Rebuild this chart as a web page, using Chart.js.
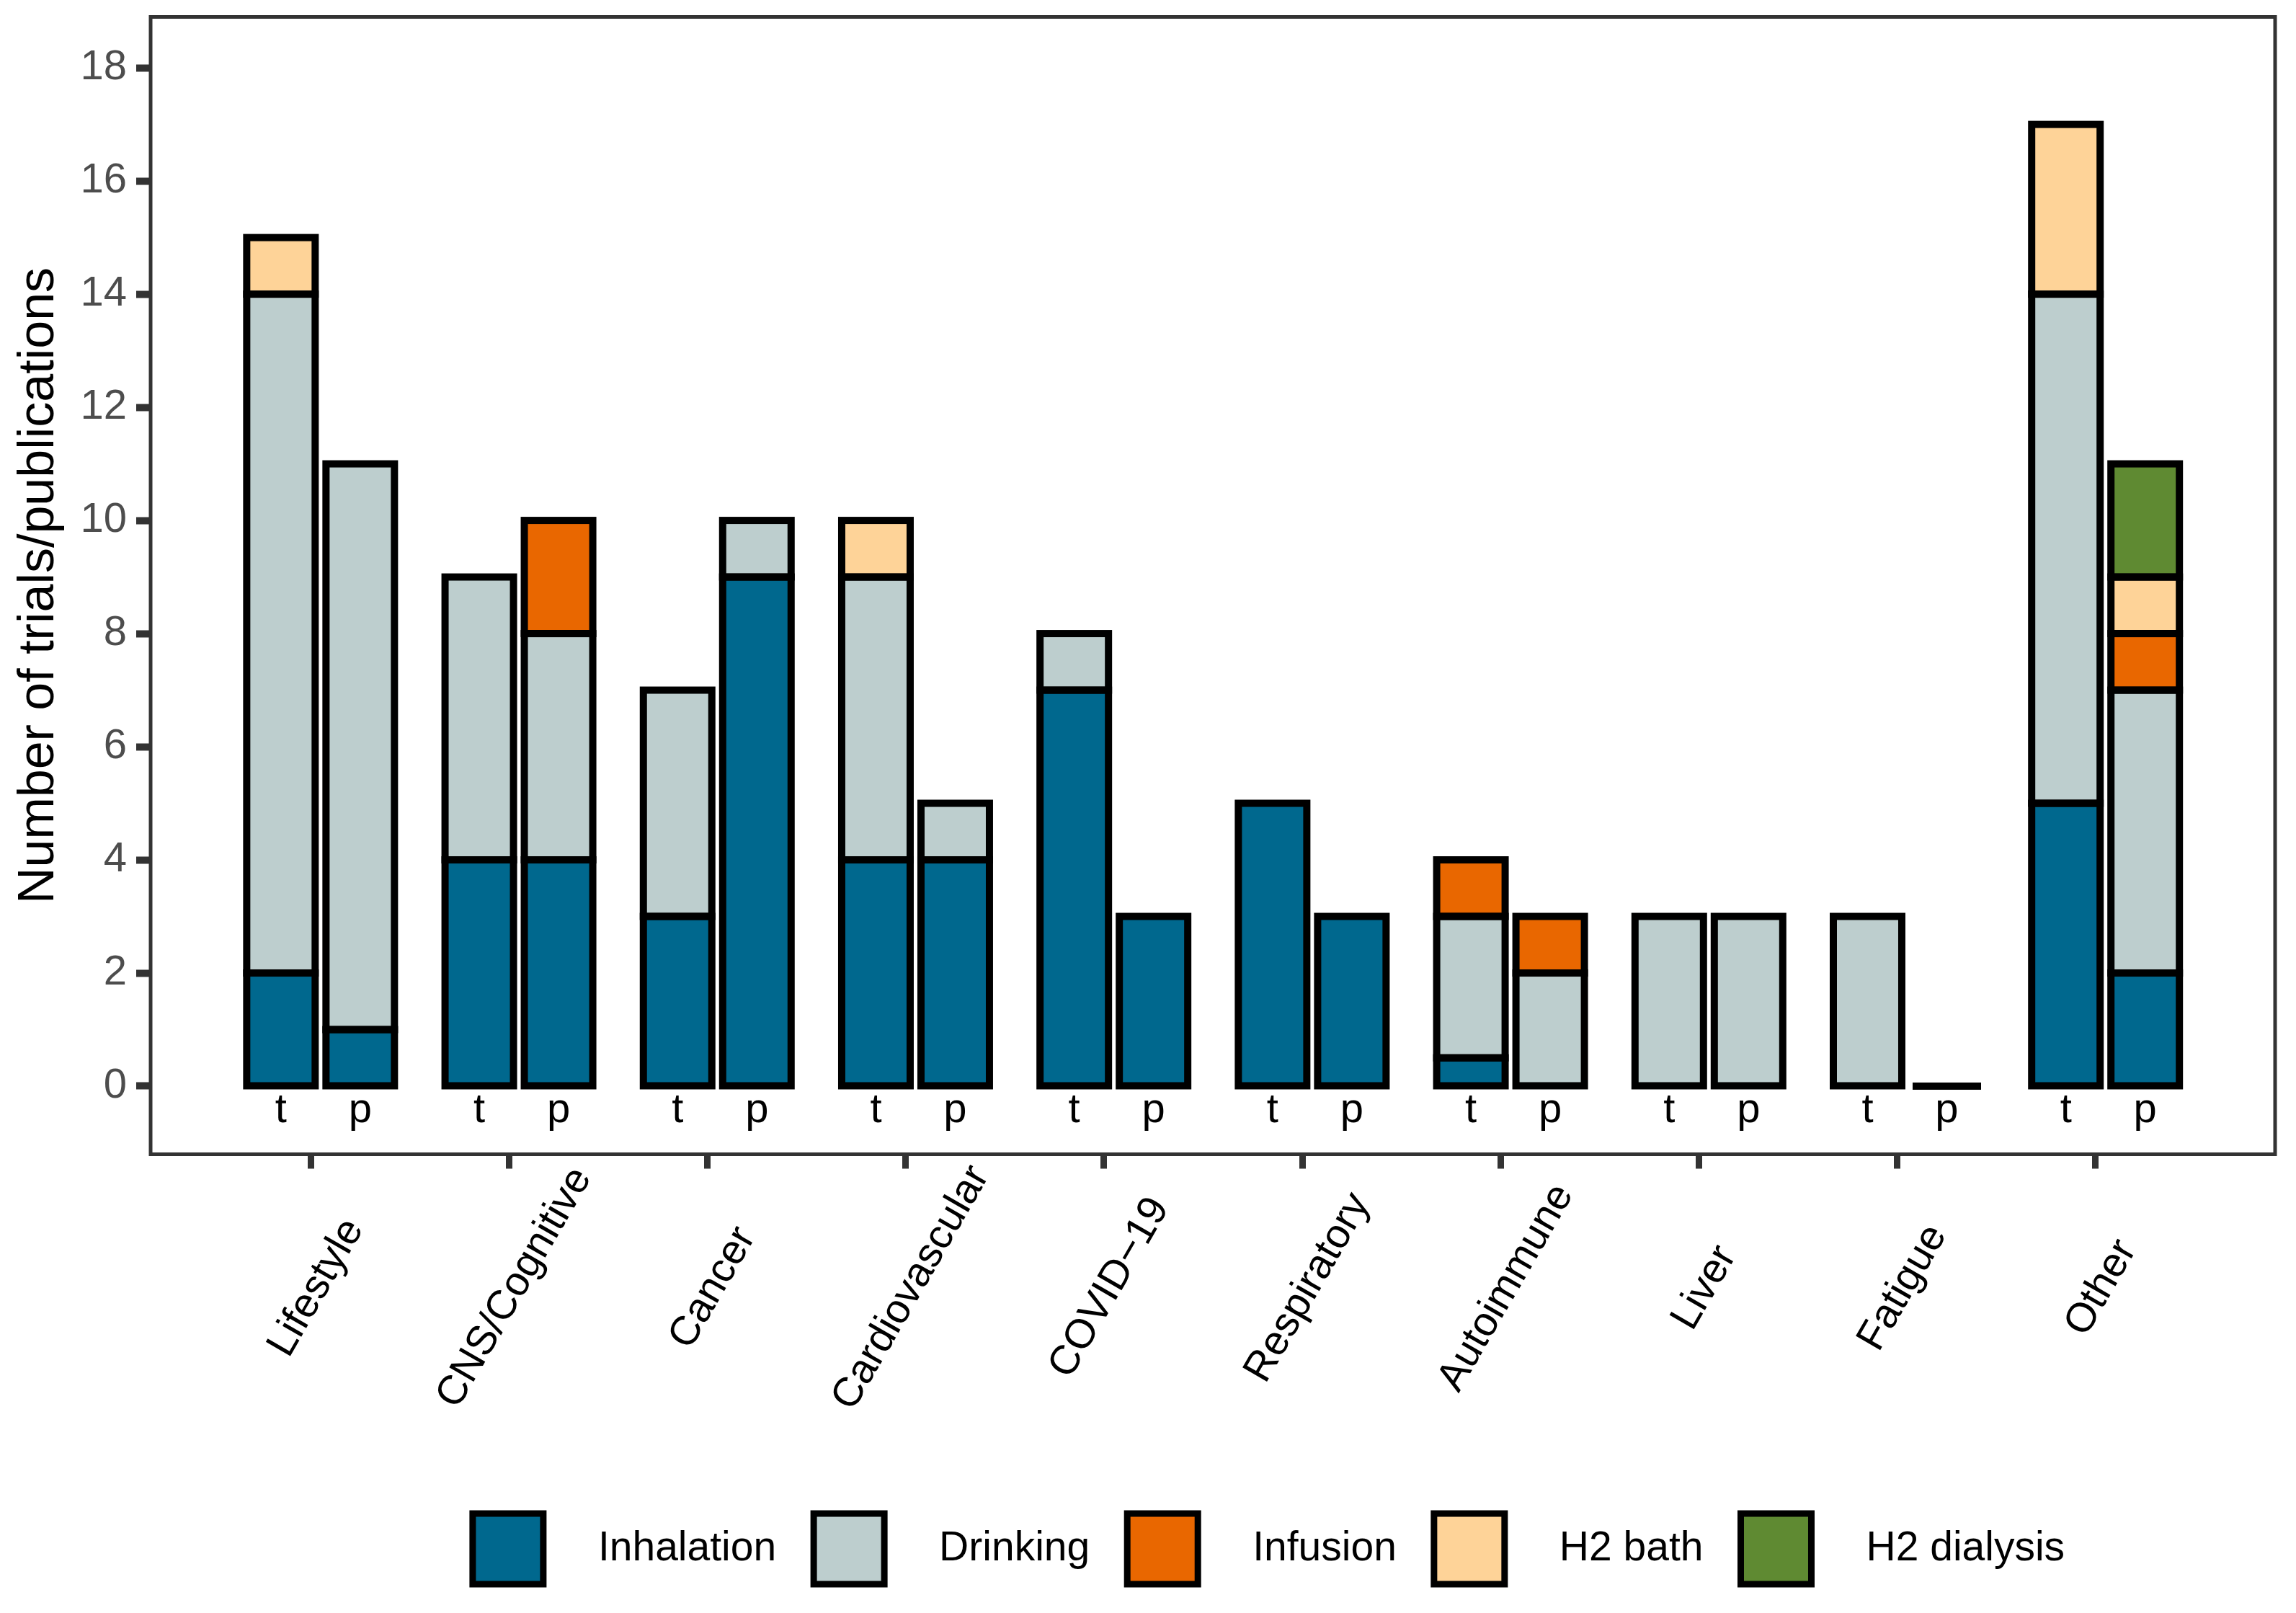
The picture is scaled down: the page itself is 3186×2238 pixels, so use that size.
<!DOCTYPE html>
<html>
<head>
<meta charset="utf-8">
<script src="https://cdn.jsdelivr.net/npm/chart.js@4.4.1/dist/chart.umd.min.js"></script>
<style>
  html, body { margin: 0; padding: 0; background: #fff; }
  #wrap { width: 3186px; height: 2238px; }
</style>
</head>
<body>
<div id="wrap"><canvas id="myChart" width="3186" height="2238"></canvas></div>
<script>
// Values: t = trials, p = publications
const categories = ['Lifestyle', 'CNS/Cognitive', 'Cancer', 'Cardiovascular', 'COVID\u221219',
                    'Respiratory', 'Autoimmune', 'Liver', 'Fatigue', 'Other'];
const methods = ['Inhalation', 'Drinking', 'Infusion', 'H2 bath', 'H2 dialysis'];
const colors = ['#00688E', '#BDCECE', '#E96700', '#FED398', '#5F8A32'];

const inhalationT = [2, 4, 3, 4, 7, 5, 0.5, null, null, 5];
const drinkingT   = [12, 5, 4, 5, 1, null, 2.5, 3, 3, 9];
const infusionT   = [null, null, null, null, null, null, 1, null, null, null];
const bathT       = [1, null, null, 1, null, null, null, null, null, 3];
const dialysisT   = [null, null, null, null, null, null, null, null, null, null];

const inhalationP = [1, 4, 9, 4, 3, 3, null, null, null, 2];
const drinkingP   = [10, 4, 1, 1, null, null, 2, 3, 0, 5];
const infusionP   = [null, 2, null, null, null, null, 1, null, null, 1];
const bathP       = [null, null, null, null, null, null, null, null, null, 1];
const dialysisP   = [null, null, null, null, null, null, null, null, null, 2];

const yTicks = [0, 2, 4, 6, 8, 10, 12, 14, 16, 18];

const FONT = '"Liberation Sans", Arial, sans-serif';
const X_MIN = -0.857, X_MAX = 9.855;
const TICK_SHIFT = -0.05;   // axis ticks sit a bit left of the bar pair
const LABEL_ANGLE = 60;
const LABEL_DX = 8;         // px, label centre relative to tick
const LABEL_DY = 185.5;     // px below the panel
const LEGEND_SHIFT = 182;
const OUTLINE = 10;         // bar outline, stroked centred on the edges

const stacks = {
    t: [inhalationT, drinkingT, infusionT, bathT, dialysisT],
    p: [inhalationP, drinkingP, infusionP, bathP, dialysisP]
};

const datasets = [];
['t', 'p'].forEach(function(stack) {
    stacks[stack].forEach(function(vals, m) {
        datasets.push({
            label: methods[m],
            stack: stack,
            data: vals.map((v, i) => ({ x: i, y: v })),
            backgroundColor: colors[m],
            borderWidth: 0,
            categoryPercentage: 0.7994,
            barPercentage: 0.8636
        });
    });
});

// black outlines drawn over every bar segment (a zero bar becomes a flat line)
const barOutlines = {
    id: 'barOutlines',
    afterDatasetsDraw(chart) {
        const ctx = chart.ctx;
        ctx.save();
        ctx.strokeStyle = '#000';
        ctx.lineWidth = OUTLINE;
        ctx.lineJoin = 'miter';
        chart.data.datasets.forEach(function(ds, d) {
            chart.getDatasetMeta(d).data.forEach(function(bar, i) {
                if (ds.data[i].y == null) return;
                const p = bar.getProps(['x', 'y', 'base', 'width'], true);
                ctx.strokeRect(p.x - p.width / 2, Math.min(p.y, p.base), p.width, Math.abs(p.base - p.y));
            });
        });
        ctx.restore();
    }
};

const panelBox = {
    id: 'panelBox',
    afterDraw(chart) {
        const { ctx, chartArea: a } = chart;
        ctx.save();
        ctx.strokeStyle = '#333333';
        ctx.lineWidth = 5;
        ctx.strokeRect(a.left, a.top, a.right - a.left, a.bottom - a.top);
        ctx.restore();
    }
};

// "t" / "p" under each bar
const stackLabels = {
    id: 'stackLabels',
    afterDatasetsDraw(chart) {
        const ctx = chart.ctx;
        const y = chart.scales.y.getPixelForValue(0) + 50;
        ctx.save();
        ctx.font = '58px ' + FONT;
        ctx.fillStyle = '#000';
        ctx.textAlign = 'center';
        ctx.textBaseline = 'alphabetic';
        [['t', 0], ['p', methods.length]].forEach(function(pair) {
            chart.getDatasetMeta(pair[1]).data.forEach(bar => ctx.fillText(pair[0], bar.x, y));
        });
        ctx.restore();
    }
};

// rotated category names, centred under each tick
const categoryLabels = {
    id: 'categoryLabels',
    afterDraw(chart) {
        const xs = chart.scales.x;
        const ctx = chart.ctx;
        ctx.save();
        ctx.font = '57px ' + FONT;
        ctx.fillStyle = '#000';
        ctx.textAlign = 'center';
        ctx.textBaseline = 'middle';
        categories.forEach(function(name, i) {
            ctx.save();
            ctx.translate(xs.getPixelForValue(i + TICK_SHIFT) + LABEL_DX, xs.top + LABEL_DY);
            ctx.rotate(-LABEL_ANGLE * Math.PI / 180);
            ctx.fillText(name, 0, 0);
            ctx.restore();
        });
        ctx.restore();
    }
};

const legendShift = {
    id: 'legendShift',
    afterLayout(chart) {
        chart.legend.left += LEGEND_SHIFT;
        chart.legend.right += LEGEND_SHIFT;
    }
};

Chart.defaults.font.family = FONT;

new Chart(document.getElementById('myChart'), {
    type: 'bar',
    data: { datasets: datasets },
    options: {
        responsive: false,
        devicePixelRatio: 1,
        animation: false,
        events: [],
        layout: { padding: { top: 23.5, right: 29, bottom: 30, left: 0 } },
        plugins: {
            tooltip: { enabled: false },
            legend: {
                position: 'bottom',
                labels: {
                    boxWidth: 98,
                    boxHeight: 98,
                    padding: 52,
                    color: '#000',
                    font: { size: 57, family: FONT },
                    generateLabels(chart) {
                        return Chart.defaults.plugins.legend.labels.generateLabels(chart)
                            .filter(item => item.datasetIndex < methods.length)
                            .map(item => Object.assign(item, {
                                text: '   ' + item.text,
                                lineWidth: 9,
                                strokeStyle: '#000'
                            }));
                    }
                }
            }
        },
        scales: {
            x: {
                type: 'linear',
                min: X_MIN,
                max: X_MAX,
                stacked: true,
                offset: false,
                grid: { offset: false, drawOnChartArea: false, drawTicks: true, tickLength: 20, tickWidth: 9, tickColor: '#333333' },
                border: { display: false },
                ticks: { display: false },
                afterBuildTicks: scale => { scale.ticks = categories.map((c, i) => ({ value: i + TICK_SHIFT })); },
                afterFit: scale => {
                    scale.height = 446.5;
                    scale.paddingLeft = 0;
                    scale.paddingRight = 0;
                }
            },
            y: {
                stacked: true,
                min: -1.204,
                max: 18.9,
                grid: { drawOnChartArea: false, drawTicks: true, tickLength: 20, tickWidth: 10, tickColor: '#333333' },
                border: { display: false },
                ticks: { padding: 13, color: '#4D4D4D', font: { size: 58, family: FONT } },
                afterBuildTicks: scale => { scale.ticks = yTicks.map(v => ({ value: v })); },
                afterFit: scale => {
                    scale.width = 209;
                    scale.paddingTop = 0;
                    scale.paddingBottom = 0;
                },
                title: {
                    display: true,
                    text: 'Number of trials/publications',
                    color: '#000',
                    font: { size: 70, family: FONT },
                    padding: { top: 13, bottom: 0 }
                }
            }
        }
    },
    plugins: [barOutlines, panelBox, stackLabels, categoryLabels, legendShift]
});
</script>
</body>
</html>
